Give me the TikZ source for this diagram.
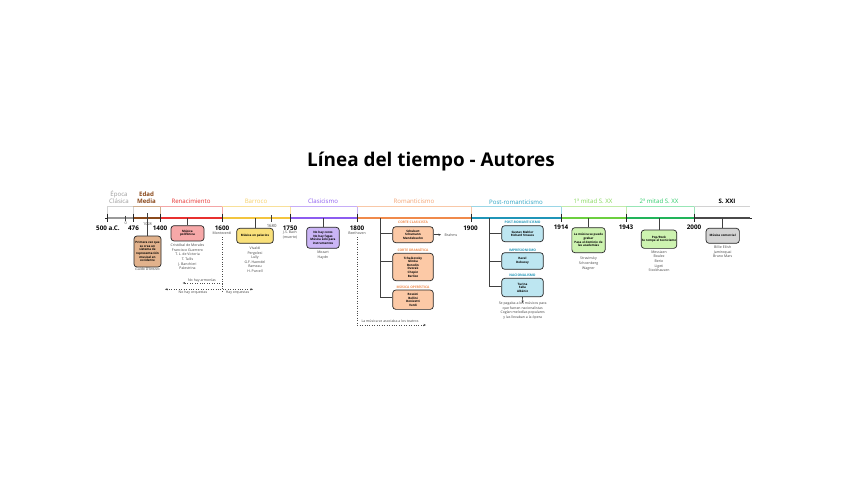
\documentclass[tikz,border=0pt]{standalone}
\usepackage{fontspec}
\setmainfont{Open Sans}
\usetikzlibrary{arrows.meta}
\definecolor{gC}{HTML}{9A9A9A}\definecolor{gCo}{HTML}{D2D2D2}
\definecolor{eM}{HTML}{8B4A1C}\definecolor{eMo}{HTML}{CFAE8E}\definecolor{eMf}{HTML}{E2B28C}
\definecolor{rN}{HTML}{E8302F}\definecolor{rNo}{HTML}{F4A6A6}\definecolor{rNf}{HTML}{F7A8A8}
\definecolor{bA}{HTML}{F2C53F}\definecolor{bAt}{HTML}{F6D065}\definecolor{bAo}{HTML}{F8E09A}\definecolor{bAf}{HTML}{F9E07A}
\definecolor{cL}{HTML}{8C5CF0}\definecolor{cLo}{HTML}{C6ADF7}\definecolor{cLf}{HTML}{CBB5F6}
\definecolor{rO}{HTML}{F08A4B}\definecolor{rOt}{HTML}{F4A372}\definecolor{rOo}{HTML}{F8C8A8}\definecolor{rOf}{HTML}{FCC9A6}
\definecolor{pR}{HTML}{1F95B8}\definecolor{pRt}{HTML}{2AA3C4}\definecolor{pRo}{HTML}{9AD6E6}\definecolor{pRf}{HTML}{BDE6F1}
\definecolor{mA}{HTML}{6CCF3F}\definecolor{mAt}{HTML}{86D85A}\definecolor{mAo}{HTML}{C2EBAA}\definecolor{mAf}{HTML}{CDF3B0}
\definecolor{mB}{HTML}{22B45A}\definecolor{mBt}{HTML}{2ECC6A}\definecolor{mBo}{HTML}{98E6B6}
\definecolor{sX}{HTML}{4A4A4A}\definecolor{sXf}{HTML}{D4D4D4}
\tikzset{
  names/.style={font=\fontsize{3.5}{4.7}\selectfont, text=black!75, align=center, inner sep=0pt},
  boxt/.style={draw=black!85, line width=0.7pt, rounded corners=3pt, font=\fontsize{3}{3.6}\selectfont\bfseries, align=center, inner sep=0.5pt},
  yr/.style={font=\fontsize{6.3}{7}\selectfont\bfseries, inner sep=0pt},
  small/.style={font=\fontsize{3.8}{4.5}\selectfont, text=black!70, inner sep=0pt},
  per/.style={font=\fontsize{6.1}{6.9}\selectfont, inner sep=0pt, align=center},
  perbox/.style={line width=0.8pt},
  axseg/.style={line width=1.6pt},
  tickm/.style={line width=1pt, black!85},
  conn/.style={line width=0.6pt, black!75},
  dotl/.style={line width=0.45pt, black!70, dotted},
  tip/.style={-{Stealth[length=2.5pt,width=2.2pt]}},
  sublab/.style={font=\fontsize{3.3}{4}\selectfont\bfseries, inner sep=0pt}
}
\begin{document}
\begin{tikzpicture}[x=1pt,y=-1pt]
\useasboundingbox[fill=white] (0,0) rectangle (848,477);

% title
\node[font=\fontsize{18.9}{22}\selectfont\bfseries, inner sep=0pt] (title) at (431,162) {Línea del tiempo - Autores};

% axis
\draw[line width=0.8pt, black!85] (105,218) -- (752,218);

% period brackets
\draw[perbox, draw=gCo] (107,218) |- (133,206) -- (133,218);
\draw[axseg, gC] (107,218) -- (133,218);
\draw[perbox, draw=eMo] (133,206) -- (160,206) -- (160,218);
\draw[axseg, eM] (133,218) -- (160,218);
\draw[perbox, draw=rNo] (160,206) -- (222,206) -- (222,218);
\draw[axseg, rN] (160,218) -- (222,218);
\draw[perbox, draw=bAo] (222,206) -- (290,206) -- (290,218);
\draw[axseg, bA] (222,218) -- (290,218);
\draw[perbox, draw=cLo] (290,206) -- (357,206) -- (357,218);
\draw[axseg, cL] (290,218) -- (357,218);
\draw[perbox, draw=rOo] (357,206) -- (471,206) -- (471,218);
\draw[axseg, rO] (357,218) -- (471,218);
\draw[perbox, draw=pRo] (471,206) -- (561,206) -- (561,218);
\draw[axseg, pR] (471,218) -- (561,218);
\draw[perbox, draw=mAo] (561,206) -- (626,206) -- (626,218);
\draw[axseg, mA] (561,218) -- (626,218);
\draw[perbox, draw=mBo] (626,206) -- (694,206) -- (694,218);
\draw[axseg, mB] (626,218) -- (694,218);
\draw[perbox, draw=gCo] (694,206) -- (750,206);
\draw[axseg, sX] (694,218) -- (750,218);

% period labels
\node[per, text=gC] (pClas) at (119,197.5) {Época\\Clásica};
\node[per, text=eM, font=\fontsize{6.1}{6.9}\selectfont\bfseries] (pMed) at (146.5,197.5) {Edad\\Media};
\node[per, text=rN] (pRen) at (191,201.5) {Renacimiento};
\node[per, text=bAt] (pBar) at (256,201.5) {Barroco};
\node[per, text=cL] (pCla) at (323,201.5) {Clasicismo};
\node[per, text=rOt] (pRom) at (414,201.5) {Romanticismo};
\node[per, text=pRt] (pPos) at (516,202) {Post-romanticismo};
\node[per, text=mAt] (pM1) at (593,201.5) {1ª mitad S. XX};
\node[per, text=mBt] (pM2) at (659,201.5) {2ª mitad S. XX};
\node[per, text=black, font=\fontsize{6.1}{6.9}\selectfont\bfseries] (pXXI) at (727,201.5) {S. XXI};

% ticks
\foreach \x in {107,133,160,222,290,357,471,561,626,694}{\draw[tickm] (\x,213.5) -- (\x,222);}
\draw[line width=0.6pt, black!75] (125.7,215.5) -- (125.7,220.5);
\draw[line width=0.7pt, black!75] (271.7,215) -- (271.7,221.5);

% year labels
\node[yr] (y500) at (108,228) {500 a.C.};
\node[small] (y0) at (125.7,223.5) {0};
\node[yr] (y476) at (133.5,228) {476};
\node[small] (y1028) at (147.5,224.3) {1028};
\node[yr] (y1400) at (160,228) {1400};
\node[yr] (y1600) at (222,228) {1600};
\node[small, font=\fontsize{4.3}{5}\selectfont] (y1680) at (271.7,226) {1680};
\node[yr] (y1750) at (290,228) {1750};
\node[yr] (y1800) at (357,228) {1800};
\node[yr] (y1900) at (470.5,228) {1900};
\node[yr] (y1914) at (561,227) {1914};
\node[yr] (y1943) at (626,227.5) {1943};
\node[yr] (y2000) at (694,227) {2000};

% notes under years
\node[names] (nMonte) at (222,233.5) {Monteverdi};
\node[names] (nBach) at (290,235) {J.S. Bach\\(muerte)};
\node[names] (nBeet) at (357,233.5) {Beethoven};

% Edad Media
\node[boxt, fill=eMf, minimum width=27pt, minimum height=31pt] (bMed) at (147.5,251.5) {Primera vez que\\se crea un\\sistema de\\representación\\musical en\\occidente};
\coordinate (a1028) at (147.5,213);
\draw[conn] (a1028) -- (bMed.north);
\node[names] (nMed) at (147.5,269.5) {Guido D'Arezzo};

% Renacimiento
\node[boxt, fill=rNf, minimum width=33pt, minimum height=15.3pt] (bRen) at (187.5,233.3) {Música\\polifónica};
\coordinate (aRen) at (187.5,218);
\draw[conn] (aRen) -- (bRen.north);
\node[names] (nRen) at (187.5,256.8) {Cristóbal de Morales\\Francisco Guerrero\\T. L. de Victoria\\T. Tallis\\J. Banchieri\\Palestrina};

% Barroco
\node[boxt, fill=bAf, minimum width=36.6pt, minimum height=15pt] (bBar) at (255,235.8) {Música en palacios};
\coordinate (aBar) at (255,218);
\draw[conn] (aBar) -- (bBar.north);
\node[names, font=\fontsize{3.5}{4.5}\selectfont] (nBar) at (255,259.5) {Vivaldi\\Pergolesi\\Lully\\G.F. Haendel\\Rameau\\H. Purcell};

% Clasicismo
\node[boxt, fill=cLf, minimum width=32.6pt, minimum height=21pt] (bCla) at (323,237.8) {No hay coros\\No hay fugas\\Música solo para\\instrumentos};
\coordinate (aCla) at (323,218);
\draw[conn] (aCla) -- (bCla.north);
\node[names] (nCla) at (323,255.2) {Mozart\\Haydn};

% 1600 dotted notes
\coordinate (d1600a) at (222,237);
\coordinate (d1600b) at (222,291);
\draw[dotl] (d1600a) -- (d1600b);
\coordinate (d1600c) at (222,283);
\coordinate (d1600d) at (182.7,283);
\draw[dotl, tip] (d1600c) -- (d1600d);
\node[names] (nArm) at (202,280.5) {No hay armonías};
\coordinate (d1600e) at (165,289.3);
\coordinate (d1600f) at (253,289.3);
\draw[dotl, {Stealth[length=2.5pt,width=2.2pt]}-{Stealth[length=2.5pt,width=2.2pt]}] (d1600e) -- (d1600f);
\node[names] (nNoOrq) at (193,292.7) {No hay orquestas};
\node[names] (nOrq) at (237.5,292.7) {Hay orquestas};

% 1800 dotted note
\coordinate (d1800a) at (357,237);
\coordinate (d1800b) at (357,325);
\coordinate (d1800c) at (426,325);
\draw[dotl, tip] (d1800a) -- (d1800b) -- (d1800c);
\node[names] (nTeat) at (390,321.3) {La música se asociaba a los teatros};

% Romanticismo
\node[boxt, fill=rOf, minimum width=40.6pt, minimum height=16pt] (bR1) at (413,234.7) {Schubert\\Schumann\\Mendelssohn};
\node[boxt, fill=rOf, minimum width=40.6pt, minimum height=27.4pt] (bR2) at (413,267) {Tchaikovsky\\Glinka\\Borodin\\Dvorak\\Chopin\\Berlioz};
\node[boxt, fill=rOf, minimum width=40.6pt, minimum height=19.3pt] (bR3) at (413,299.7) {Rossini\\Bellini\\Donizetti\\Verdi};
\node[sublab, text=rO] (sR1) at (413,222.7) {CORTE CLASICISTA};
\node[sublab, text=rO] (sR2) at (413,250) {CORTE DRAMÁTICA};
\node[sublab, text=rO] (sR3) at (413,286.8) {MÚSICA OPERÍSTICA};
\coordinate (aRom) at (380,218);
\coordinate (aRomEnd) at (380,297);
\draw[conn] (aRom) -- (aRomEnd);
\draw[conn] (aRom |- 0,233.5) -- (bR1.west |- 0,233.5);
\draw[conn] (aRom |- 0,261) -- (bR2.west |- 0,261);
\draw[conn] (aRomEnd) -- (bR3.west |- aRomEnd);
\node[names, anchor=west] (nBrahms) at (444.5,234.7) {Brahms};
\draw[conn, tip] (bR1.east) -- (nBrahms.west -| 441,0);

% Post-romanticismo
\node[boxt, fill=pRf, minimum width=41.6pt, minimum height=16pt] (bP1) at (522.5,233.7) {Gustav Mahler\\Richard Strauss};
\node[boxt, fill=pRf, minimum width=41.6pt, minimum height=16.6pt] (bP2) at (522.5,261) {Ravel\\Debussy};
\node[boxt, fill=pRf, minimum width=41.6pt, minimum height=18.4pt] (bP3) at (522.5,287.5) {Turina\\Falla\\Albéniz};
\node[sublab, text=pR] (sP1) at (522.5,222.7) {POST-ROMANTICISMO};
\node[sublab, text=pR] (sP2) at (522.5,250) {IMPRESIONISMO};
\node[sublab, text=pR] (sP3) at (522.5,275) {NACIONALISMO};
\coordinate (aPos) at (489.3,218);
\coordinate (aPosEnd) at (489.3,286);
\draw[conn] (aPos) -- (aPosEnd);
\draw[conn] (aPos |- 0,233.5) -- (bP1.west |- 0,233.5);
\draw[conn] (aPos |- 0,261) -- (bP2.west |- 0,261);
\draw[conn] (aPosEnd) -- (bP3.west |- aPosEnd);
\node[names, font=\fontsize{3.5}{4.6}\selectfont] (nNac) at (522.7,310.6) {Se pagaba a los músicos para\\que fueran nacionalistas\\Cogían melodías populares\\y las llevaban a la ópera};
\coordinate (aNac) at (522.7,303);
\draw[conn, tip] (bP3.south) -- (aNac);

% 1a mitad S. XX
\node[boxt, fill=mAf, minimum width=33.3pt, minimum height=25pt] (bM1) at (588.5,240.2) {La música se puede\\grabar\\Pasa el dominio de\\las academias};
\coordinate (aM1) at (588.5,218);
\draw[conn] (aM1) -- (bM1.north);
\node[names] (nM1) at (588.5,263.4) {Stravinsky\\Schoenberg\\Wagner};

% 2a mitad S. XX
\node[boxt, fill=mAf, minimum width=34.3pt, minimum height=18.3pt] (bM2) at (659,239.2) {Pop/Rock\\Se rompe el tecnicismo};
\coordinate (aM2) at (659,218);
\draw[conn] (aM2) -- (bM2.north);
\node[names] (nM2) at (659,261.2) {Messiaen\\Boulez\\Berio\\Ligeti\\Stockhausen};

% S. XXI
\node[boxt, fill=sXf, minimum width=33.3pt, minimum height=15pt] (bXXI) at (722.7,235.8) {Música comercial};
\coordinate (aXXI) at (722.7,218);
\draw[conn] (aXXI) -- (bXXI.north);
\node[names] (nXXI) at (722.7,251.7) {Billie Eilish\\Jamiroquai\\Bruno Mars};
\end{tikzpicture}
\end{document}
